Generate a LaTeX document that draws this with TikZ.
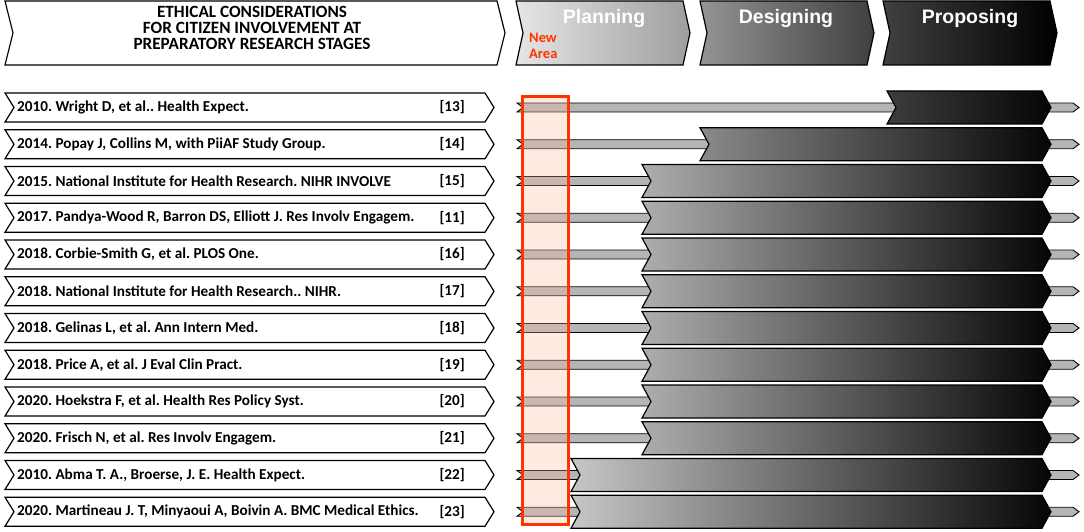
\documentclass[tikz,border=0pt]{standalone}
\usepackage{fontspec}
\setmainfont{Carlito}
\newfontfamily\phasefont{Liberation Sans}
\frenchspacing
\definecolor{newred}{HTML}{FF3300}
\definecolor{newpink}{HTML}{FFB8A0}
\definecolor{bargray}{HTML}{B5B5B5}
\tikzset{chev line/.style={draw=black,line width=1.2pt,line join=miter},
         ref box/.style={chev line,fill=white},
         ref text/.style={font=\fontsize{15.2}{16}\selectfont\bfseries,inner sep=0pt},
         head text/.style={font=\fontsize{17.2}{16}\selectfont\bfseries,align=center,inner sep=0pt},
         phase text/.style={font=\fontsize{19.5}{20}\phasefont\bfseries,text=white,inner sep=0pt},
         new text/.style={font=\fontsize{14.5}{15.5}\selectfont\bfseries,text=newred,align=left,inner sep=0pt},
         bar/.style={draw=black,line width=0.9pt,fill=bargray},
         new area/.style={draw=newred,line width=3pt},
}
% chevron: [style] x-left, x-right, y-centre, half height, tip depth
\newcommand{\chev}[6][]{\path[#1] (#2,#4-#5) -- (#3,#4-#5) -- (#3+#6,#4) -- (#3,#4+#5) -- (#2,#4+#5) -- (#2+#6,#4) -- cycle;}

\begin{document}
\begin{tikzpicture}[x=1pt,y=-1pt]
\useasboundingbox (0,0) rectangle (1084,532);
% \draw[help lines,step=50] (0,0) grid (1084,532);

% header row
\chev[ref box]{5}{497}{33}{32}{8}
\node[head text] (title) at (252,28) {ETHICAL CONSIDERATIONS\\FOR CITIZEN INVOLVEMENT AT\\PREPARATORY RESEARCH STAGES};
\chev[chev line,left color=black!10,right color=black!38]{516}{683}{33}{32}{7}
\chev[chev line,left color=black!42,right color=black!75]{700}{867}{33}{32}{7}
\chev[chev line,left color=black!75,right color=black]{883}{1050}{33}{32}{7}
\node[phase text,anchor=base] (planning) at (604,24) {Planning};
\node[phase text,anchor=base] (designing) at (786,24) {Designing};
\node[phase text,anchor=base] (proposing) at (970,24) {Proposing};
\node[new text,anchor=north west] (newarea) at (529,33) {New\\Area};

% one row per reference
\foreach \txt/\num/\xs/\lvl [count=\i] in {
    {2010. Wright D, et al.. Health Expect.}/13/887/76,
    {2014. Popay J, Collins M, with PiiAF Study Group.}/14/700/46,
    {2015. National Institute for Health Research. NIHR INVOLVE}/15/642/32,
    {2017. Pandya-Wood R, Barron DS, Elliott J. Res Involv Engagem.}/11/642/32,
    {2018. Corbie-Smith G, et al. PLOS One.}/16/642/32,
    {2018. National Institute for Health Research.. NIHR.}/17/642/32,
    {2018. Gelinas L, et al. Ann Intern Med.}/18/642/32,
    {2018. Price A, et al. J Eval Clin Pract.}/19/642/32,
    {2020. Hoekstra F, et al. Health Res Policy Syst.}/20/642/32,
    {2020. Frisch N, et al. Res Involv Engagem.}/21/642/32,
    {2010. Abma T. A., Broerse, J. E. Health Expect.}/22/571/22,
    {2020. Martineau J. T, Minyaoui A, Boivin A. BMC Medical Ethics.}/23/571/22}
{
    \pgfmathsetmacro\yc{107.5+(\i-1)*36.75}
    \chev[ref box]{5}{485}{\yc}{14.5}{9}
    \node[ref text,anchor=west] (cite\i) at (17,\yc) {\txt};
    \node[ref text,anchor=east] (num\i) at (465,\yc) {[\num]};
    \chev[bar]{517}{1073}{\yc}{4.5}{6}
    \chev[chev line,left color=black!\lvl,right color=black!98]{\xs}{1042}{\yc}{16.5}{9}
}

% new area column
\fill[newpink,opacity=0.3] (522,97) rectangle (568,524);
\draw[new area] (522,97) rectangle (568,524);
\end{tikzpicture}
\end{document}
